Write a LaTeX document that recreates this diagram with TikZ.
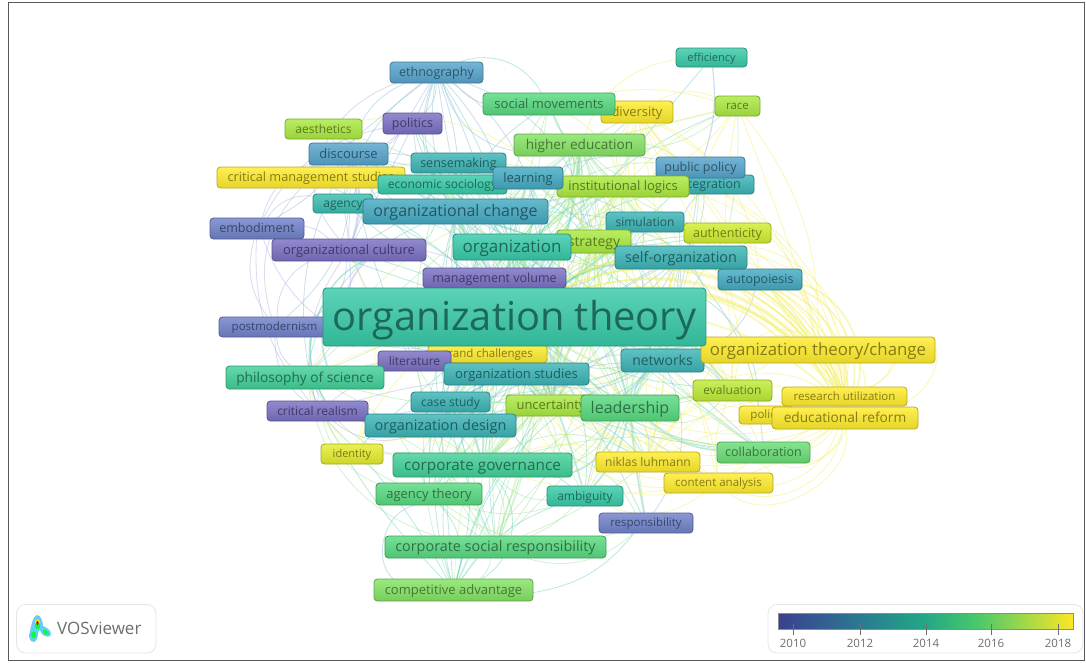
\documentclass[tikz,border=0pt]{standalone}
\usepackage{fontspec}
\setmainfont{Open Sans}
\usetikzlibrary{backgrounds}
\definecolor{cpur}{HTML}{7A70C4}
\definecolor{cind}{HTML}{7082CA}
\definecolor{cblu}{HTML}{56A4CC}
\definecolor{cbt}{HTML}{44AAC2}
\definecolor{ctl}{HTML}{3CB4B6}
\definecolor{ctg}{HTML}{38CAA8}
\definecolor{cgt}{HTML}{42D098}
\definecolor{cgr}{HTML}{58DA80}
\definecolor{clg}{HTML}{84E464}
\definecolor{clm}{HTML}{ABEA40}
\definecolor{cyg}{HTML}{D2EE2E}
\definecolor{cyl}{HTML}{FFEC2C}
\definecolor{lteal}{HTML}{6CCFBE}
\definecolor{lgreen}{HTML}{9AE49A}
\definecolor{llime}{HTML}{CDEE7C}
\definecolor{lyel}{HTML}{F2EE66}
\definecolor{lblue}{HTML}{8ABAD8}
\definecolor{lpur}{HTML}{ACB0E0}
\definecolor{uigray}{HTML}{6E6E6E}
\definecolor{viri1}{HTML}{3B3F8F}
\definecolor{viri2}{HTML}{2B7A92}
\definecolor{viri3}{HTML}{22A884}
\definecolor{viri4}{HTML}{4BC96A}
\definecolor{viri5}{HTML}{FDE725}
\pgfdeclarehorizontalshading{viribar}{100bp}{color(0bp)=(viri1);color(25bp)=(viri1);color(39bp)=(viri2);color(50bp)=(viri3);color(59bp)=(viri4);color(75bp)=(viri5);color(100bp)=(viri5)}
\tikzset{
  vos/.style n args={2}{rounded corners=3.5pt,draw=#1!72!black,line width=.8pt,
    top color=#1!82!white,bottom color=#1!90!black,text=#1!52!black,
    font=\fontsize{#2}{#2}\selectfont,inner sep=0pt},
  link/.style={line width=.85pt,opacity=.45},
  thick link/.style={line width=1.7pt,opacity=.45},
  panel/.style={draw=black!10,fill=white,rounded corners=9pt,line width=.8pt},
  legend text/.style={text=uigray,inner sep=0pt},
  tick mark/.style={draw=uigray,line width=.6pt}
}
% x1 y1 x2 y2 id colour size text
\newcommand\vnode[8]{\pgfmathsetmacro\cx{(#2+#4)/2}\pgfmathsetmacro\cy{(#3+#5)/2}%
  \pgfmathsetmacro\ww{#4-#2}\pgfmathsetmacro\hh{#5-#3}%
  \pgfmathsetmacro\th{#7*.8}\pgfmathsetmacro\td{#7*.13}%
  \node[vos={#6}{#7},minimum width=\ww pt,minimum height=\hh pt,text height=\th pt,text depth=\td pt] (#1) at (\cx,\cy) {#8};}
% style, hub, seed, targets
\newcommand\linksfrom[4]{\foreach \t [count=\i] in {#4}{\pgfmathtruncatemacro\bn{mod(\i*47+#3,64)-32}%
  \draw[#1] (#2) to[bend left=\bn] (\t);}}
\begin{document}
\begin{tikzpicture}[x=1pt,y=-1pt]
\useasboundingbox (0,0) rectangle (1086,662);
\draw[black!65,line width=.9pt] (8,2) -- (1084,2) -- (1084,660.5) -- (8,660.5) -- cycle;
% nodes, smaller below larger
\vnode{effi}{676}{48}{747}{67}{ctg}{11}{efficiency}
\vnode{race}{715}{96}{760}{116}{clm}{11.5}{race}
\vnode{iden}{321}{444}{383}{464}{cyg!60!cyl}{11}{identity}
\vnode{inte}{664}{175}{754}{194}{ctl}{12.5}{integration}
\vnode{gran}{428}{345}{547}{363}{cyl}{11.5}{grand challenges}
\vnode{post}{219}{317}{330}{337}{cind}{11.5}{postmodernism}
\vnode{pol2}{739}{406}{793}{424}{cyl}{11.5}{policy}
\vnode{rese}{782}{387}{907}{406}{cyl}{11.5}{research utilization}
\vnode{cont}{664}{473}{773}{493}{cyl}{11.5}{content analysis}
\vnode{resp}{599}{513}{693}{533}{cind}{11.5}{responsibility}
\vnode{aest}{285}{119}{362}{139}{clm}{12}{aesthetics}
\vnode{agen}{313}{194}{373}{213}{ctl!60!ctg}{12}{agency}
\vnode{simu}{606}{212}{684}{232}{ctl}{12}{simulation}
\vnode{eval}{693}{380}{772}{401}{clm!50!cyg}{12}{evaluation}
\vnode{crit}{267}{401}{368}{421}{cpur}{12}{critical realism}
\vnode{case}{411}{392}{490}{412}{ctl}{12}{case study}
\vnode{nikl}{596}{452}{700}{472}{cyl}{12}{niklas luhmann}
\vnode{ambi}{547}{486}{623}{506}{ctg}{12}{ambiguity}
\vnode{lite}{378}{351}{451}{371}{cpur}{12}{literature}
\vnode{poli}{383}{113}{442}{134}{cpur}{12.5}{politics}
\vnode{sens}{411}{153}{506}{173}{ctl}{12.5}{sensemaking}
\vnode{cms}{217}{167}{405}{188}{cyl}{12.7}{critical management studies}
\vnode{auth}{684}{223}{771}{243}{cyg}{12.5}{authenticity}
\vnode{embo}{210}{218}{304}{239}{cind}{12.5}{embodiment}
\vnode{mgmt}{423}{268}{566}{288}{cpur}{12.5}{management volume}
\vnode{auto}{718}{269}{802}{290}{cbt}{12.5}{autopoiesis}
\vnode{coll}{717}{442}{810}{463}{cgr!60!clg}{12.5}{collaboration}
\vnode{agth}{376}{483}{482}{505}{cgr}{13}{agency theory}
\vnode{econ}{378}{175}{507}{194}{ctg}{12}{economic sociology}
\vnode{ethn}{390}{62}{483}{83}{cblu}{12.5}{ethnography}
\vnode{dive}{601}{101}{673}{123}{cyl}{13}{diversity}
\vnode{socm}{483}{93}{615}{115}{cgr}{13}{social movements}
\vnode{disc}{309}{143}{388}{165}{cblu}{13}{discourse}
\vnode{pubp}{656}{157}{745}{178}{cblu}{12.5}{public policy}
\vnode{inst}{557}{176}{689}{197}{clm}{13}{institutional logics}
\vnode{lear}{493}{167}{563}{189}{cbt}{13}{learning}
\vnode{cult}{272}{239}{426}{261}{cpur}{13}{organizational culture}
\vnode{stud}{444}{363}{589}{385}{ctl}{13}{organization studies}
\vnode{phil}{226}{366}{384}{389}{cgt}{13.7}{philosophy of science}
\vnode{unce}{506}{395}{596}{416}{clm}{13}{uncertainty}
\vnode{comp}{374}{579}{533}{601}{clg}{13}{competitive advantage}
\vnode{stra}{557}{230}{631}{253}{clm}{14}{strategy}
\vnode{high}{514}{134}{645}{156}{clg}{13.6}{higher education}
\vnode{netw}{621}{349}{704}{372}{ctl}{14}{networks}
\vnode{edu}{772}{407}{918}{429}{cyl}{13.7}{educational reform}
\vnode{desi}{365}{414}{516}{437}{ctl}{14.4}{organization design}
\vnode{csr}{385}{536}{606}{558}{cgr}{14.4}{corporate social responsibility}
\vnode{self}{615}{246}{747}{269}{ctl}{14.4}{self-organization}
\vnode{corp}{393}{453}{572}{477}{cgt}{15.3}{corporate governance}
\vnode{orgc}{363}{199}{548}{224}{cbt}{16}{organizational change}
\vnode{otc}{701}{337}{935}{363}{cyl}{16.8}{organization theory/change}
\vnode{lead}{581}{395}{679}{421}{cgr}{16}{leadership}
\vnode{orgn}{453}{234}{571}{260}{ctg}{17}{organization}
\vnode{ot}{323}{288}{706}{346}{ctg}{39.8}{organization theory}
% connectors under the nodes
\begin{pgfonlayer}{background}
\linksfrom{link,lteal}{ot}{5}{race,effi,ethn,socm,dive,poli,aest,high,disc,pubp,sens,inte,lear,cms,econ,inst,agen,orgc,simu,auth,embo,orgn,stra,self,cult,mgmt,auto,post,lite,netw,stud,phil,eval,crit,case,unce,lead,pol2,desi,iden,coll,corp,nikl,cont,agth,ambi,resp,csr,comp}
\linksfrom{thick link,lteal}{ot}{11}{lead,netw,desi,corp,stud,ambi,phil,crit,cult,orgc,high,inst,self,simu,unce,case}
\linksfrom{link,lgreen}{lead}{9}{high,inst,socm,csr,corp,ambi,coll,eval,stud,case,desi,netw,stra,self,orgn,orgc,phil,comp,agth,nikl,auth,pubp,lear,econ,resp}
\linksfrom{thick link,lteal}{lead}{3}{netw,eval,coll,corp,ambi,resp,orgn,stud}
\linksfrom{link,lgreen}{orgn}{21}{high,socm,inst,sens,lear,econ,stud,desi,corp,phil,case,lite,unce,netw,self,simu,csr,agth,ambi,comp,disc,poli,aest,pubp,auth,coll}
\linksfrom{thick link,lgreen}{orgn}{35}{stra,high,inst,self,netw,stud,desi,corp,lead,unce}
\linksfrom{link,lteal}{orgc}{17}{high,socm,inst,sens,stra,netw,self,stud,case,corp,desi,phil,unce,simu,auth,ambi,eval,coll,csr,agth,cult,disc,agen,ethn,poli}
\linksfrom{thick link,llime}{stra}{12}{high,inst,self,netw,unce,stud,orgc,lead,corp,eval}
\linksfrom{link,lgreen}{high}{2}{socm,dive,race,inst,stra,self,stud,unce,netw,eval,coll,corp,csr,nikl,pubp,inte,simu,auth,desi,case,phil,lite,mgmt}
\linksfrom{link,llime}{inst}{29}{socm,dive,race,stra,auth,self,netw,unce,eval,nikl,coll,stud,case,corp,csr,comp,agth,ambi,desi,phil,aest,econ,cms}
\linksfrom{link,lgreen}{stud}{26}{econ,sens,lear,simu,self,high,socm,netw,unce,lead,corp,eval,case,desi,nikl}
\linksfrom{link,lteal}{unce}{38}{sens,econ,simu,self,netw,corp,desi,case,lear,orgc,nikl,coll,agen,high}
\linksfrom{link,lgreen}{corp}{13}{csr,comp,agth,ambi,resp,desi,case,stud,phil,lite,crit,unce,netw,stra,econ,nikl,coll,iden}
\linksfrom{link,lgreen}{csr}{7}{comp,agth,ambi,resp,desi,case,stud,phil,unce,netw,stra,econ,socm,nikl,crit}
\linksfrom{link,lteal}{comp}{19}{agth,ambi,desi,case,stud,unce,stra,resp,netw,phil,crit}
\linksfrom{link,lgreen}{agth}{31}{ambi,desi,case,stud,phil,crit,iden,lite,resp}
\linksfrom{link,lblue}{ethn}{25}{disc,poli,sens,econ,orgc,orgn,cult,socm,high,lear,cms,agen,stra,mgmt,stud}
\linksfrom{link,lblue}{disc}{37}{poli,sens,cult,agen,cms,orgn,mgmt,lear,crit,post,embo,lite}
\linksfrom{link,lblue}{lear}{41}{sens,econ,stra,simu,self,netw,stud,case,desi,mgmt,pubp}
\linksfrom{link,lblue}{self}{15}{simu,auth,auto,pubp,inte,netw,stud,unce,desi,case,mgmt,eval,coll}
\linksfrom{link,lblue}{netw}{23}{auto,stud,case,desi,unce,eval,coll,ambi,resp,simu,pubp}
\linksfrom{link,lpur}{cult}{33}{embo,post,cms,agen,disc,poli,mgmt,lite,crit,phil,ethn,sens,aest}
\linksfrom{link,lpur}{mgmt}{10}{lite,case,desi,stud,poli,sens,stra,simu,unce}
\linksfrom{link,lpur}{crit}{27}{phil,post,lite,case,desi,embo,stud}
\draw[thick link,lpur] (ot) to[bend left=8] (post);
\draw[thick link,lpur] (cult) to[bend right=12] (ot);
\draw[link,lpur] (embo) to[bend right=25] (post);
\draw[link,lpur] (embo) to[bend right=40] (ot);
\draw[link,lpur] (cult) to[bend right=30] (post);
\draw[link,lpur] (cms) to[bend right=30] (post);
\draw[link,lpur] (disc) to[bend right=25] (embo);
\draw[link,lpur] (embo) to[bend left=30] (agen);
\draw[link,lpur] (embo) to[bend left=25] (poli);
\draw[link,lpur] (ethn) to[bend right=25] (cms);
\draw[link,lteal] (ethn) to[bend left=40] (socm);
\draw[link,lblue] (phil) to[bend left=20] (post);
% the yellow side
\draw[thick link,llime] (race) -- (high);
\draw[link,lblue,line width=1.2pt] (effi) to[bend left=12] (pubp);
\draw[link,lyel] (effi) to[bend right=30] (high);
\draw[link,lgreen] (race) to[bend left=6] (auth);
\draw[link,lyel] (dive) to[bend left=25] (race);
\draw[link,lyel] (socm) to[bend left=12] (race);
\draw[link,lyel] (aest) to[bend left=35] (stra);
\linksfrom{link,lyel}{dive}{8}{otc,edu,rese,pol2,eval,auth,inte,self,nikl,cont,inst,auto,stra}
\linksfrom{link,lyel}{race}{4}{otc,edu,pol2,eval,inst}
\foreach \b in {12,20,28,36,44,52}{
  \draw[thick link,lyel] (ot) to[bend left=\b] (otc);
  \draw[thick link,lyel] (ot) to[bend left=\b] (rese);
  \draw[thick link,lyel] (auto) to[bend left=\b] (edu);
  \draw[link,lyel] (self) to[bend left=\b] (rese);
  \draw[link,lyel] (ot) to[bend right=\b] (edu);
  \draw[link,lyel] (ot) to[bend right=\b] (cont);
}
\foreach \b in {10,30,50,70}{
  \draw[link,lyel] (otc) to[bend left=\b] (rese);
  \draw[link,lyel] (otc) to[bend left=\b] (edu);
  \draw[link,lyel] (otc) to[bend right=\b] (eval);
  \draw[link,lyel] (edu) to[bend right=\b] (nikl);
  \draw[link,lyel] (edu) to[bend left=\b] (cont);
  \draw[link,lyel] (rese) to[bend left=\b] (coll);
}
\draw[link,lyel] (inte) to[bend left=30] (edu);
\draw[link,lyel] (inte) to[bend left=24] (rese);
\draw[link,lyel] (inst) to[bend left=35] (otc);
\draw[link,lyel] (auth) to[bend left=25] (edu);
\linksfrom{link,lyel}{nikl}{6}{lead,netw,cont,coll,eval,stud,corp,unce,self,auto}
\linksfrom{link,lyel}{cont}{18}{coll,eval,lead,netw,ambi,corp}
\linksfrom{link,lyel}{iden}{14}{desi,phil,crit,cult,corp,lite}
\linksfrom{link,lyel}{gran}{20}{stud,lite,post,phil,desi}
\draw[link,lteal] (comp) to[bend right=55] (corp);
\draw[link,lblue] (comp) to[bend left=65] (agth);
\end{pgfonlayer}
% logo panel
\draw[panel] (16.5,604.5) rectangle (156,653);
\fill[cyan!60!white] (37,615) .. controls (41,615) and (43,622) .. (43,626) .. controls (46,627) and (51,630) .. (51,634) .. controls (51,638) and (45,637) .. (42,634) .. controls (41,632) and (40,630) .. (39,630) .. controls (38,632) and (38,642) .. (34,642) .. controls (29,642) and (28,636) .. (30,631) .. controls (31,626) and (33,616) .. (37,615) -- cycle;
\fill[green!75!cyan] (37,620) .. controls (40,621) and (41,627) .. (39,629) .. controls (37,630) and (35,628) .. (35,625) -- cycle;
\fill[green!75!cyan] (31,634) .. controls (32,630) and (37,631) .. (36,636) .. controls (35,640) and (31,639) .. (31,634) -- cycle;
\fill[green!75!cyan] (43,630) .. controls (46,629) and (49,632) .. (49,634) .. controls (46,636) and (42,633) .. (43,630) -- cycle;
\fill[yellow!90!green] (37.5,622) circle (2.6);
\fill[red!85!black] (37.5,623) ellipse (1.2 and 2);
\node[legend text,font=\fontsize{17}{17}\selectfont,anchor=west] (brand) at (57,628.5) {VOSviewer};
% colour bar panel
\draw[panel] (768,604.5) rectangle (1083,653);
\node[draw=black!45,line width=.5pt,shading=viribar,minimum width=295pt,minimum height=16pt,inner sep=0pt] (bar) at (925.5,621) {};
\foreach \x/\y in {793/2010,860/2012,926/2014,991/2016,1058/2018}{
  \draw[tick mark] (\x,624) -- (\x,635);
  \node[legend text,font=\fontsize{11.5}{11.5}\selectfont] (y\y) at (\x,643.5) {\y};
}
\end{tikzpicture}
\end{document}
